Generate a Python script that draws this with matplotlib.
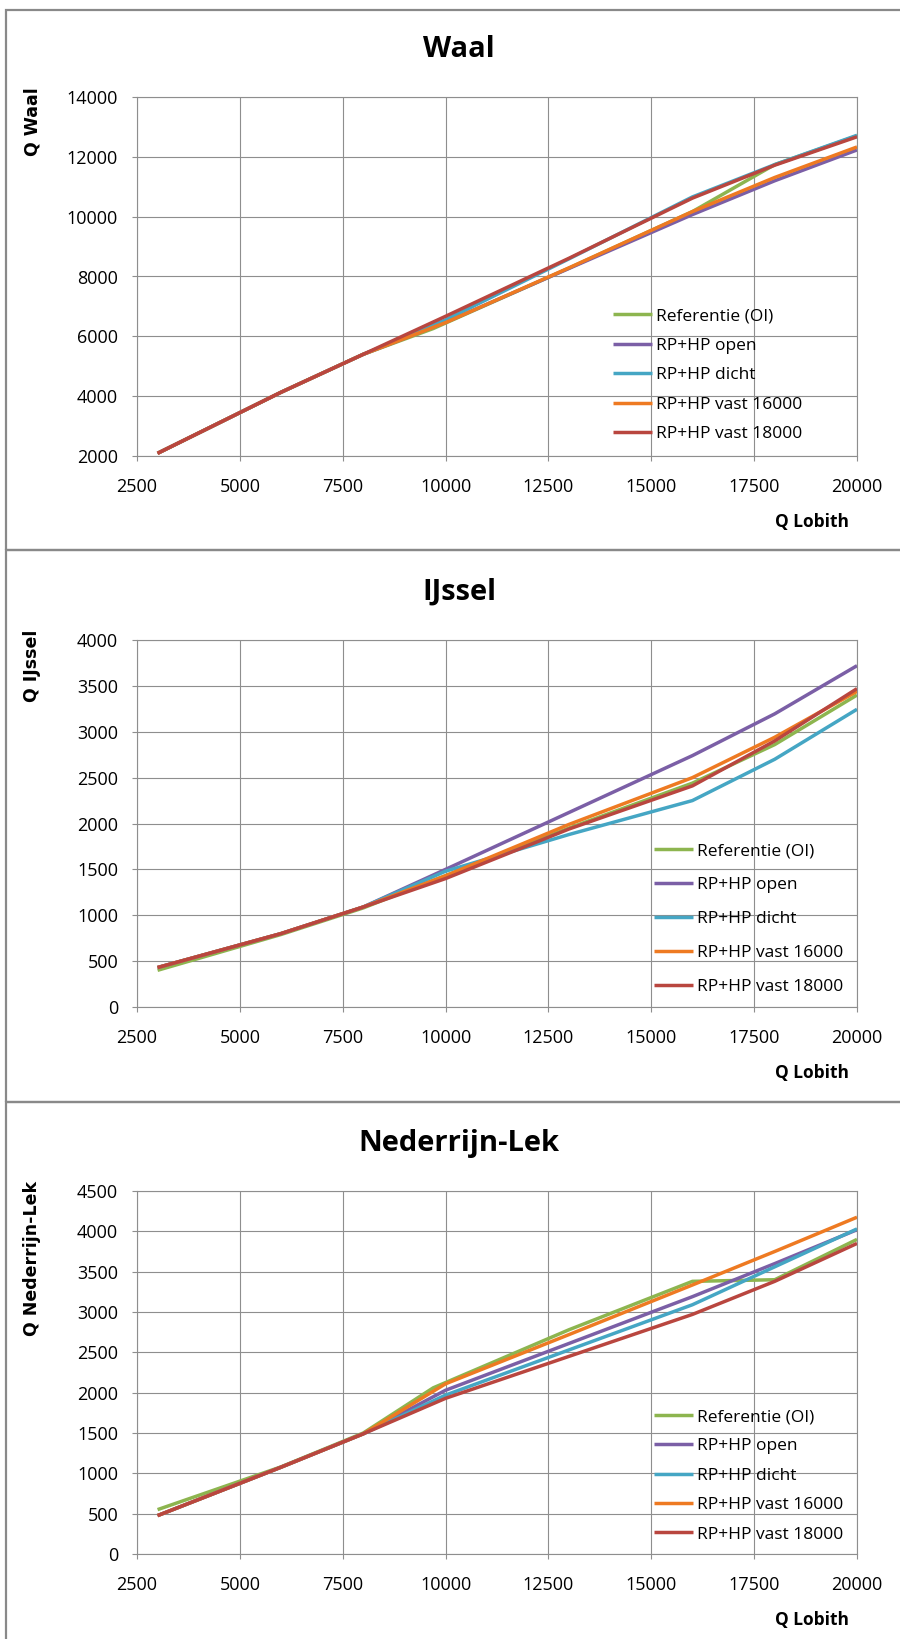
import matplotlib.pyplot as plt
from matplotlib.patches import Rectangle

W, H = 900, 1639

# Afvoer bij Lobith (m3/s)
Q_LOBITH = [3000, 6000, 8000, 10000, 13000, 16000, 18000, 20000]
Q_LOBITH_REF = [3000, 6000, 8000, 9700, 13000, 16000, 18000, 20000]

series_names = ['Referentie (OI)', 'RP+HP open', 'RP+HP dicht',
                'RP+HP vast 16000', 'RP+HP vast 18000']
series_colors = ['#8DB54F', '#7B5FA6', '#45A6C4', '#EE7A22', '#B9463F']

# Waal
waal_ref = [2090, 4130, 5400, 6260, 8280, 10170, 11740, 12700]
waal_open = [2090, 4130, 5400, 6470, 8270, 10070, 11200, 12230]
waal_dicht = [2090, 4130, 5400, 6550, 8590, 10660, 11740, 12720]
waal_vast16 = [2090, 4130, 5400, 6460, 8290, 10170, 11310, 12330]
waal_vast18 = [2090, 4130, 5400, 6670, 8610, 10620, 11720, 12670]

# IJssel
ijssel_ref = [400, 790, 1080, 1380, 1950, 2440, 2860, 3400]
ijssel_open = [430, 800, 1090, 1500, 2120, 2740, 3195, 3720]
ijssel_dicht = [430, 800, 1090, 1480, 1880, 2250, 2700, 3245]
ijssel_vast16 = [430, 800, 1090, 1430, 1990, 2500, 2940, 3440]
ijssel_vast18 = [430, 800, 1090, 1400, 1940, 2410, 2900, 3470]

# Nederrijn-Lek
lek_ref = [550, 1080, 1500, 2060, 2780, 3380, 3400, 3900]
lek_open = [476, 1076, 1490, 2030, 2610, 3190, 3600, 4020]
lek_dicht = [476, 1076, 1490, 1970, 2530, 3090, 3560, 4030]
lek_vast16 = [476, 1076, 1490, 2110, 2720, 3335, 3750, 4175]
lek_vast18 = [476, 1076, 1490, 1930, 2450, 2970, 3380, 3850]

panels = [
    dict(title='Waal', ylabel='Q Waal',
         series=[waal_ref, waal_open, waal_dicht, waal_vast16, waal_vast18],
         ylim=(2000, 14000), ystep=2000, box=(10, 550), axes=(97, 456),
         legend=(613, 308), spacing=0.77),
    dict(title='IJssel', ylabel='Q IJssel',
         series=[ijssel_ref, ijssel_open, ijssel_dicht, ijssel_vast16, ijssel_vast18],
         ylim=(0, 4000), ystep=500, box=(550, 1102), axes=(640, 1007),
         legend=(654, 843), spacing=1.02),
    dict(title='Nederrijn-Lek', ylabel='Q Nederrijn-Lek',
         series=[lek_ref, lek_open, lek_dicht, lek_vast16, lek_vast18],
         ylim=(0, 4500), ystep=500, box=(1102, 1670), axes=(1191, 1554),
         legend=(654, 1409), spacing=0.76),
]

plt.rcParams['font.family'] = ['Open Sans', 'DejaVu Sans']

fig = plt.figure(figsize=(W / 100, H / 100), dpi=100)
fig.patch.set_facecolor('white')

grid_color = '#8E8E8E'
ax_left, ax_right = 137, 857

for p in panels:
    top, bottom = p['box']
    fig.add_artist(Rectangle((6 / W, 1 - bottom / H), (W + 20) / W, (bottom - top) / H,
                             transform=fig.transFigure, fill=False,
                             edgecolor='#898989', lw=1.6, clip_on=False))

    a_top, a_bot = p['axes']
    ax = fig.add_axes([ax_left / W, 1 - a_bot / H,
                       (ax_right - ax_left) / W, (a_bot - a_top) / H])

    lines = []
    for i, (vals, name, col) in enumerate(zip(p['series'], series_names, series_colors)):
        xs = Q_LOBITH_REF if i == 0 else Q_LOBITH
        ln, = ax.plot(xs, vals, color=col, lw=2.5, label=name,
                      solid_joinstyle='round', solid_capstyle='butt', zorder=3 + i)
        lines.append(ln)

    ymin, ymax = p['ylim']
    ax.set_xlim(2500, 20000)
    ax.set_ylim(ymin, ymax)
    ax.set_xticks(range(2500, 20001, 2500))
    ax.set_yticks(range(ymin, ymax + 1, p['ystep']))
    ax.grid(True, color=grid_color, lw=0.8)
    ax.set_axisbelow(True)
    for s in ax.spines.values():
        s.set_color(grid_color)
        s.set_linewidth(0.8)
    ax.tick_params(axis='both', direction='out', length=3.6, width=0.8,
                   color=grid_color, labelsize=13, labelcolor='black')
    ax.tick_params(axis='x', pad=12.5)
    ax.tick_params(axis='y', pad=10)

    lx, ly = p['legend']
    ax.legend(handles=lines, loc='upper left',
              bbox_to_anchor=(lx / W, 1 - ly / H), bbox_transform=fig.transFigure,
              frameon=False, borderpad=0, borderaxespad=0, handlelength=2.24,
              handletextpad=0.25, labelspacing=p['spacing'], fontsize=12.5)

    fig.text(459 / W, 1 - (a_top - 40) / H, p['title'], ha='center', va='baseline',
             fontsize=21, fontweight='bold')
    fig.text(32 / W, 1 - (a_top - 10) / H, p['ylabel'], rotation=90, ha='center',
             va='top', family='DejaVu Sans', fontweight='bold', fontsize=12.5)
    fig.text(849 / W, 1 - (a_bot + 71) / H, 'Q Lobith', ha='right', va='baseline',
             fontsize=12.5, fontweight='bold')

fig.savefig('out.png', dpi=100, facecolor='white')
